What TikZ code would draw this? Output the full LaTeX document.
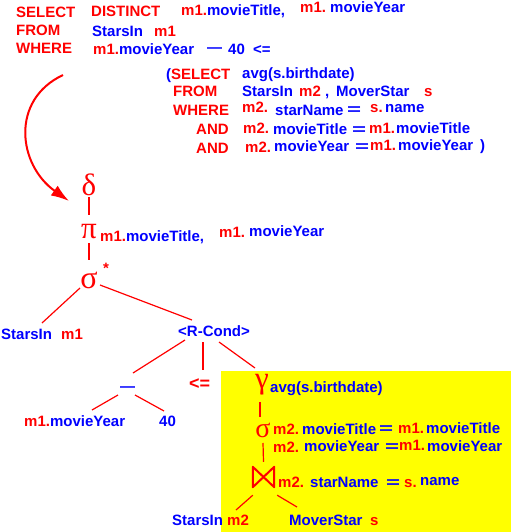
\documentclass[tikz,border=0pt]{standalone}
\usepackage{fontspec}
\setmainfont{Liberation Sans}
\newfontfamily\greekfont{Liberation Serif}
\usepackage{xcolor}
\usepackage{graphicx}
\usetikzlibrary{arrows.meta,calc}
\definecolor{sqlred}{HTML}{FF0000}
\definecolor{sqlblue}{HTML}{0000FF}
\definecolor{boxyellow}{HTML}{FFFF00}
\newcommand{\rd}[1]{\textcolor{sqlred}{#1}}
\newcommand{\bl}[1]{\textcolor{sqlblue}{#1}}
\newcommand{\eqsign}{\scalebox{1.6}[1]{=}}

\begin{document}
\begin{tikzpicture}[x=1pt, y=-1pt,
    txt/.style={anchor=base west, inner sep=0pt, font=\fontsize{15}{18}\selectfont\bfseries},
    kw/.style={txt, text=sqlred},
    btext/.style={txt, text=sqlblue},
    op/.style={anchor=base, inner sep=0pt, text=sqlred, font=\fontsize{31}{31}\selectfont\greekfont},
    link/.style={draw=sqlred, line width=1.2pt},
    arrow/.style={-{Latex[length=18pt, width=12pt]}, draw=sqlred, line width=2pt}
]
    \useasboundingbox (0,0) rectangle (511,532);
    \fill[boxyellow] (221,371) rectangle (511,532);

    % the query
    \node[kw] (sel) at (16,18) {SELECT};
    \node[kw] (dist) at (91,17) {DISTINCT};
    \node[txt] (selA) at (181,16) {\rd{m1.}\bl{movieTitle,}};
    \node[kw] (selB) at (300,13) {m1.};
    \node[btext] (selC) at (330,13) {movieYear};
    \node[kw] (from) at (16,36) {FROM};
    \node[btext] (fromA) at (92,37) {StarsIn};
    \node[kw] (fromB) at (154,37) {m1};
    \node[kw] (where) at (16,54) {WHERE};
    \node[txt] (whA) at (93,55) {\rd{m1.}\bl{movieYear}};
    \node[btext] (whB) at (207,53) {—};
    \node[btext] (whC) at (228,55) {40};
    \node[btext] (whD) at (253,55) {<=};

    % the subquery
    \node[txt] (subsel) at (166,80) {\bl{(}\rd{SELECT}};
    \node[btext] (subselA) at (242,79) {avg(s.birthdate)};
    \node[kw] (subfrom) at (173,97) {FROM};
    \node[btext] (subfromA) at (242,97) {StarsIn};
    \node[kw] (subfromB) at (299,96) {m2};
    \node[btext] (subfromC) at (325,97) {,};
    \node[btext] (subfromD) at (336,97) {MoverStar};
    \node[kw] (subfromE) at (424,96) {s};
    \node[kw] (subwh) at (173,115) {WHERE};
    \node[kw] (subwhA) at (242,113) {m2.};
    \node[btext] (subwhB) at (275,115) {starName};
    \node[btext] (subwhC) at (347,114) {\eqsign};
    \node[kw] (subwhD) at (370,113) {s.};
    \node[btext] (subwhE) at (385,113) {name};
    \node[kw] (andA) at (196,134) {AND};
    \node[kw] (andA1) at (243,133) {m2.};
    \node[btext] (andA2) at (273,135) {movieTitle};
    \node[btext] (andA3) at (352,134) {\eqsign};
    \node[kw] (andA4) at (369,133) {m1.};
    \node[btext] (andA5) at (396,133) {movieTitle};
    \node[kw] (andB) at (196,153) {AND};
    \node[kw] (andB1) at (245,152) {m2.};
    \node[btext] (andB2) at (274,151) {movieYear};
    \node[btext] (andB3) at (355,151) {\eqsign};
    \node[kw] (andB4) at (370,150) {m1.};
    \node[btext] (andB5) at (398,150) {movieYear};
    \node[btext] (andB6) at (480,150) {)};

    \coordinate (arcstart) at (63,75);
    \coordinate (arcend) at (69,201);
    \draw[arrow] (arcstart) .. controls (10,100) and (18,165) .. (arcend);

    % the tree
    \node[op] (del) at (89,195) {δ};
    \node[op] (pi) at (89,238) {π};
    \node[txt] (piA) at (100,241) {\rd{m1.}\bl{movieTitle,}};
    \node[kw] (piB) at (219,237) {m1.};
    \node[btext] (piC) at (249,236) {movieYear};
    \node[op, font=\fontsize{32}{32}\selectfont\greekfont] (sig) at (89,288) {σ};
    \node[kw] (sigstar) at (103,273) {*};
    \node[btext] (rel1) at (1,339) {StarsIn};
    \node[kw] (rel1v) at (61,339) {m1};
    \node[btext] (rc) at (178,336) {<R-Cond>};
    \node[btext] (minus) at (120,391) {—};
    \node[kw, font=\fontsize{18}{18}\selectfont\bfseries] (le) at (189,389) {<=};
    \node[txt] (yr) at (24,426) {\rd{m1.}\bl{movieYear}};
    \node[btext] (forty) at (159,426) {40};

    \node[op] (gam) at (262,388) {γ};
    \node[btext] (gamA) at (270,392) {avg(s.birthdate)};
    \node[op, font=\fontsize{28}{28}\selectfont\greekfont] (sig2) at (263,437) {σ};
    \node[kw] (sig2A) at (273,434) {m2.};
    \node[btext] (sig2B) at (302,434) {movieTitle};
    \node[btext] (sig2C) at (379,433) {\eqsign};
    \node[kw] (sig2D) at (398,433) {m1.};
    \node[btext] (sig2E) at (426,433) {movieTitle};
    \node[kw] (sig2F) at (273,452) {m2.};
    \node[btext] (sig2G) at (304,451) {movieYear};
    \node[btext] (sig2H) at (385,451) {\eqsign};
    \node[kw] (sig2I) at (399,450) {m1.};
    \node[btext] (sig2J) at (427,451) {movieYear};
    \node[minimum width=21pt, minimum height=20pt, inner sep=0pt] (join) at (263.5,477) {};
    \draw[sqlred, line width=2pt, line join=round] (join.north west) -- (join.south east)
        -- (join.north east) -- (join.south west) -- cycle;
    \node[kw] (joinA) at (278,487) {m2.};
    \node[btext] (joinB) at (310,487) {starName};
    \node[btext] (joinC) at (386,487) {\eqsign};
    \node[kw] (joinD) at (404,487) {s.};
    \node[btext] (joinE) at (420,485) {name};
    \node[btext] (rel2) at (172,525) {StarsIn};
    \node[kw] (rel2v) at (227,525) {m2};
    \node[btext] (rel3) at (289,525) {MoverStar};
    \node[kw] (rel3v) at (370,525) {s};

    \draw[link] ($(del.base)+(0,2)$) -- ($(pi.base)+(0,-23)$);
    \draw[link] ($(pi.base)+(0,5)$) -- ($(sig.base)+(0,-28)$);
    \draw[link] ($(sig.base)+(-9,0)$) -- ($(rel1.base west)+(41,-16)$);
    \draw[link] ($(sig.base)+(11,-3)$) -- ($(rc.base west)+(14,-16)$);
    \draw[link] ($(rc.base west)+(7,4)$) -- ($(minus.base west)+(13,-18)$);
    \draw[link] ($(rc.base west)+(25,6)$) -- ($(le.base west)+(14,-19)$);
    \draw[link] ($(rc.base west)+(41,6)$) -- ($(gam.base)+(-7,-20)$);
    \draw[link] ($(minus.base west)+(-2,4)$) -- ($(yr.base west)+(68,-16)$);
    \draw[link] ($(minus.base west)+(15,4)$) -- ($(forty.base west)+(5,-15)$);
    \draw[link] ($(gam.base)+(-2,14)$) -- ($(sig2.base)+(-3,-20)$);
    \draw[link] ($(sig2.base)+(0,6)$) -- ($(join.north)+(0,-5)$);
    \draw[link] ($(join.south west)+(0,8)$) -- ($(rel2.base west)+(64,-15)$);
    \draw[link] ($(join.south east)+(3,8)$) -- ($(rel3.base west)+(8,-18)$);
\end{tikzpicture}
\end{document}
